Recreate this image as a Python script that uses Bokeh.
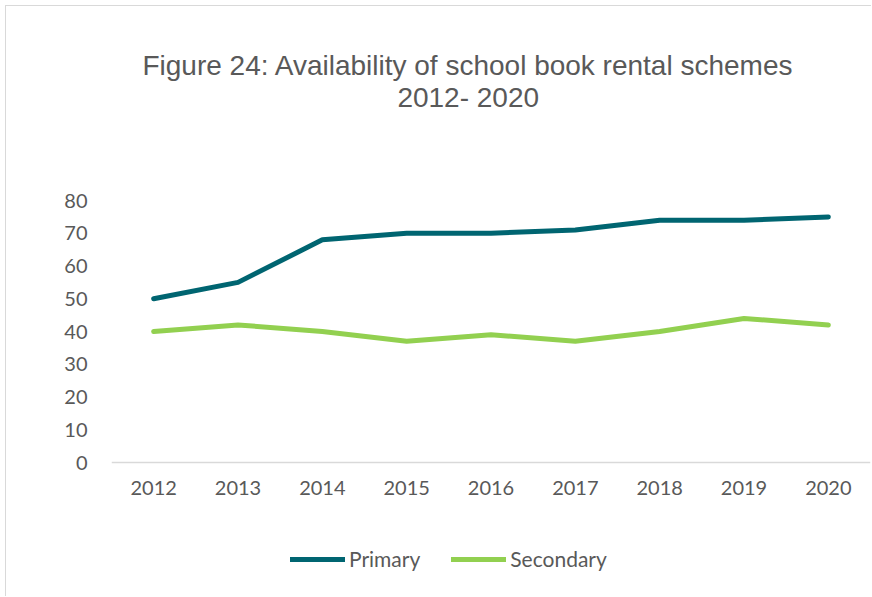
from bokeh.plotting import figure
from bokeh.models import Range1d, FactorRange, Label, Legend, LegendItem
from bokeh.embed import file_html
from bokeh.resources import INLINE

years = ["2012", "2013", "2014", "2015", "2016", "2017", "2018", "2019", "2020"]
primary = [50, 55, 68, 70, 70, 71, 74, 74, 75]
secondary = [40, 42, 40, 37, 39, 37, 40, 44, 42]
y_ticks = [0, 10, 20, 30, 40, 50, 60, 70, 80]
title_line1 = "Figure 24: Availability of school book rental schemes"
title_line2 = "2012- 2020"

TEXT = "#595959"
FONT = "Lato"

p = figure(width=866, height=591, output_backend="svg", toolbar_location=None,
           x_range=FactorRange(factors=years, range_padding=0),
           y_range=Range1d(-41.22, 139.24),
           min_border_left=105, min_border_right=2, min_border_top=0, min_border_bottom=0,
           styles={"border-left": "1px solid #d9d9d9", "border-top": "1px solid #d9d9d9",
                   "margin-left": "5px", "margin-top": "5px"})
p.title = None
p.outline_line_color = None
p.xgrid.visible = False
p.ygrid.visible = False

p.yaxis.ticker = y_ticks
p.yaxis.axis_line_color = None
p.yaxis.major_tick_line_color = None
p.yaxis.minor_tick_line_color = None
p.yaxis.major_tick_out = 0
p.yaxis.major_label_standoff = 24
p.xaxis.fixed_location = 0
p.xaxis.axis_line_color = "#d9d9d9"
p.xaxis.axis_line_width = 1.5
p.xaxis.major_tick_line_color = None
p.xaxis.minor_tick_line_color = None
p.xaxis.major_tick_out = 0
p.xaxis.major_label_standoff = 18
for ax in (p.xaxis, p.yaxis):
    ax.major_label_text_font = FONT
    ax.major_label_text_font_size = "20px"
    ax.major_label_text_color = TEXT

r1 = p.line(years, primary, line_color="#006571", line_width=5, line_cap="round", line_join="round")
r2 = p.line(years, secondary, line_color="#92D050", line_width=5, line_cap="round", line_join="round")

for txt, yv in ((title_line1, 121.3), (title_line2, 111.5)):
    p.add_layout(Label(x=4.23, y=yv, text=txt, text_align="center", text_baseline="middle",
                       text_font="Liberation Sans", text_font_size="28px", text_color=TEXT))

legend = Legend(items=[LegendItem(label="Primary", renderers=[r1]),
                       LegendItem(label="Secondary", renderers=[r2])],
                orientation="horizontal", location=(179, 26),
                glyph_width=55, glyph_height=20, label_standoff=4, spacing=31,
                padding=0, margin=0, border_line_color=None, background_fill_alpha=0,
                label_text_font=FONT, label_text_font_size="21px", label_text_color=TEXT)
p.add_layout(legend, "center")

open("out.html", "w").write(file_html(p, INLINE))
